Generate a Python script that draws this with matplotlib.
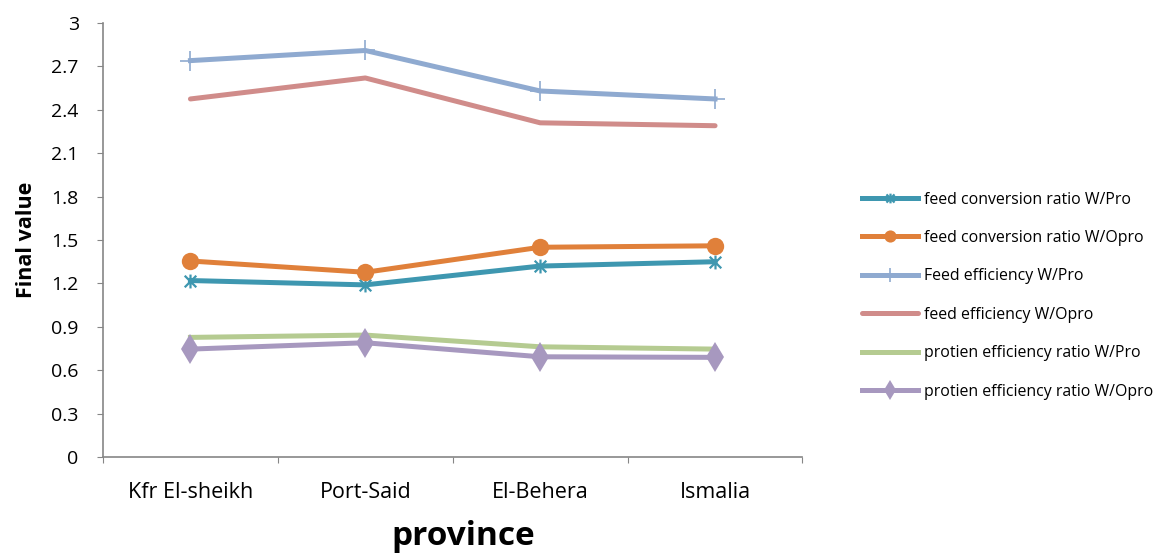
import matplotlib
matplotlib.use("Agg")
import matplotlib.pyplot as plt
from matplotlib.path import Path

# ── data ──────────────────────────────────────────────
provinces = ["Kfr El-sheikh", "Port-Said", "El-Behera", "Ismalia"]

fcr_pro   = [1.22, 1.19, 1.32, 1.35]
fcr_opro  = [1.355, 1.277, 1.45, 1.46]
fe_pro    = [2.74, 2.81, 2.53, 2.475]
fe_opro   = [2.475, 2.62, 2.31, 2.29]
per_pro   = [0.827, 0.843, 0.762, 0.746]
per_opro  = [0.746, 0.79, 0.693, 0.689]

labels = [
    "feed conversion ratio W/Pro",
    "feed conversion ratio W/Opro",
    "Feed efficiency W/Pro",
    "feed efficiency W/Opro",
    "protien efficiency ratio W/Pro",
    "protien efficiency ratio W/Opro",
]
y_ticks = [0, 0.3, 0.6, 0.9, 1.2, 1.5, 1.8, 2.1, 2.4, 2.7, 3]

FONT = "Open Sans"
plt.rcParams["font.family"] = [FONT, "DejaVu Sans"]

# asterisk marker (X + vertical bar)
star = Path([(-1, -1), (1, 1), (-1, 1), (1, -1), (0, -1.2), (0, 1.2)],
            [Path.MOVETO, Path.LINETO, Path.MOVETO, Path.LINETO,
             Path.MOVETO, Path.LINETO])

fig = plt.figure(figsize=(11.6, 5.54), dpi=100)
ax = fig.add_axes([0.0888, 0.175, 0.603, 0.7835])

x = list(range(len(provinces)))
lw = 3.6
ax.plot(x, fcr_pro, color="#3E97B0", lw=lw, marker=star, markersize=10,
        markeredgewidth=1.6, label=labels[0], zorder=4)
ax.plot(x, fcr_opro, color="#E0803A", lw=lw, marker="o", markersize=12.5,
        markeredgewidth=0, label=labels[1], zorder=5)
ax.plot(x, fe_pro, color="#8FAAD0", lw=lw, marker="+", markersize=14,
        markeredgewidth=1.2, label=labels[2], zorder=3)
ax.plot(x, fe_opro, color="#D08C8A", lw=lw, label=labels[3], zorder=3,
        solid_capstyle="round")
ax.plot(x, per_pro, color="#B5CB91", lw=lw, label=labels[4], zorder=3)
ax.plot(x, per_opro, color="#A798BF", lw=lw, marker="d", markersize=15,
        markeredgewidth=0, label=labels[5], zorder=4)

ax.set_xlim(-0.5, 3.5)
ax.set_ylim(0, 3)
ax.set_yticks(y_ticks)
ax.set_yticklabels([f"{v:g}" for v in y_ticks], fontsize=14)

# category boundaries get the tick marks, names sit between them
ax.set_xticks([-0.5, 0.5, 1.5, 2.5, 3.5])
ax.set_xticklabels([])
ax.set_xticks(x, minor=True)
ax.set_xticklabels(provinces, minor=True, fontsize=15.5)
ax.tick_params(axis="x", which="minor", length=0, pad=18)
ax.tick_params(axis="x", which="major", length=4.5, color="#868686")
ax.tick_params(axis="y", length=4.5, color="#868686", pad=13)

for side in ("top", "right"):
    ax.spines[side].set_visible(False)
for side in ("left", "bottom"):
    ax.spines[side].set_color("#868686")
    ax.spines[side].set_linewidth(1.2)

ax.set_xlabel("province", fontsize=24, fontweight="bold")
ax.xaxis.set_label_coords(0.515, -0.145)
ax.set_ylabel("Final value", fontsize=15.5, fontweight="bold", labelpad=10)

handles, _ = ax.get_legend_handles_labels()
leg = fig.legend(handles, labels, loc="upper left",
                 bbox_to_anchor=(0.731, 0.68), frameon=False, fontsize=11.4,
                 handlelength=3.5, handletextpad=0.42, labelspacing=1.42,
                 markerscale=0.7)

fig.savefig("out.png", dpi=100)
